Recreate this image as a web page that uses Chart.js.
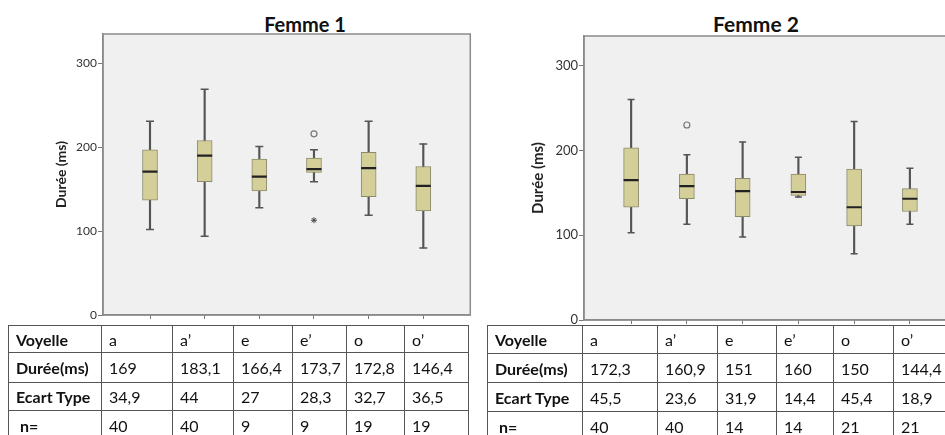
<!DOCTYPE html>
<html>
<head>
<meta charset="utf-8">
<script src="https://cdn.jsdelivr.net/npm/chart.js@4.4.1/dist/chart.umd.min.js"></script>
<style>
  body { margin: 0; width: 945px; height: 435px; overflow: hidden; background: #fff; position: relative; font-family: Lato, "Open Sans", sans-serif; }
  .title { position: absolute; font-weight: bold; color: #111; transform: translate(-50%, -50%); white-space: nowrap; }
  .wrap { position: absolute; top: 0; }
  table { position: absolute; border-collapse: collapse; table-layout: fixed; font-size: 16px; color: #111; }
  td { border: 1px solid #555; padding: 0 0 0 7px; white-space: nowrap; overflow: hidden; }
  td.h { font-weight: bold; }
</style>
</head>
<body>
<div class="title" style="left:305px; top:24px; font-size:20px;">Femme 1</div>
<div class="title" style="left:756px; top:23px; font-size:21px;">Femme 2</div>
<canvas id="f1" class="wrap" style="left:0px" width="480" height="330"></canvas>
<canvas id="f2" class="wrap" style="left:487px" width="480" height="330"></canvas>
<table id="t1" style="left:8px; top:325px;"></table>
<table id="t2" style="left:487px; top:325px;"></table>
<script>
// vowels (categories)
const vowels = ['a', 'a’', 'e', 'e’', 'o', 'o’'];
const yTicks = [0, 100, 200, 300];

// Femme 1 box plot values
const f1Min = [102, 94, 128, 159, 119, 80];
const f1Q1  = [137, 159, 148, 170, 141, 124];
const f1Med = [171, 190, 165, 174, 175, 154];
const f1Q3  = [197, 208, 186, 187, 194, 177];
const f1Max = [231, 269, 201, 197, 231, 204];
const f1Circles = [{ x: 3, y: 216 }];
const f1Stars = [{ x: 3, y: 113 }];

// Femme 2 box plot values
const f2Min = [103, 113, 98, 145, 78, 113];
const f2Q1  = [133, 143, 122, 147, 111, 128];
const f2Med = [165, 158, 152, 151, 133, 143];
const f2Q3  = [203, 172, 167, 172, 178, 155];
const f2Max = [260, 195, 210, 192, 234, 179];
const f2Circles = [{ x: 1, y: 230 }];
const f2Stars = [];

// table values
const f1Mean = ['169', '183,1', '166,4', '173,7', '172,8', '146,4'];
const f1Sd   = ['34,9', '44', '27', '28,3', '32,7', '36,5'];
const f1N    = ['40', '40', '9', '9', '19', '19'];
const f2Mean = ['172,3', '160,9', '151', '160', '150', '144,4'];
const f2Sd   = ['45,5', '23,6', '31,9', '14,4', '45,4', '18,9'];
const f2N    = ['40', '40', '14', '14', '21', '21'];

Chart.defaults.font.family = 'Lato';

const plotFrame = {
    id: 'plotFrame',
    beforeDraw(chart) {
        const a = chart.chartArea, ctx = chart.ctx;
        ctx.save();
        ctx.fillStyle = '#f0f0f0';
        ctx.fillRect(a.left, a.top, a.right - a.left, a.bottom - a.top);
        ctx.strokeStyle = '#8a8a8a';
        ctx.lineWidth = 1.5;
        ctx.strokeRect(a.left, a.top, a.right - a.left, a.bottom - a.top);
        ctx.restore();
    }
};

function boxChart(id, s) {
    const idx = s.med.map((_, i) => i);
    const caps = idx.map(i => ({ x: i, y: s.min[i] })).concat(idx.map(i => ({ x: i, y: s.max[i] })));
    return new Chart(document.getElementById(id), {
        type: 'bar',
        data: {
            datasets: [
                { type: 'scatter', data: idx.map(i => ({ x: i, y: s.med[i] })), pointStyle: 'line',
                  pointRadius: s.boxW / 2, pointBorderColor: '#222', pointBorderWidth: 2.2, order: 0 },
                { type: 'scatter', data: caps, pointStyle: 'line', pointRadius: s.capR,
                  pointBorderColor: '#555', pointBorderWidth: 1.5, order: 1 },
                { type: 'scatter', data: s.circles, pointStyle: 'circle', pointRadius: 3,
                  pointBackgroundColor: 'rgba(0,0,0,0)', pointBorderColor: '#777', pointBorderWidth: 1.2, order: 0 },
                { type: 'scatter', data: s.stars, pointStyle: 'star', pointRadius: 3,
                  pointBorderColor: '#444', pointBorderWidth: 1, order: 0 },
                { type: 'bar', data: idx.map(i => ({ x: i, y: [s.q1[i], s.q3[i]] })), backgroundColor: '#d4cf98',
                  borderColor: '#8b8a6b', borderWidth: 1, borderSkipped: false, barThickness: s.boxW, grouped: false, order: 2 },
                { type: 'bar', data: idx.map(i => ({ x: i, y: [s.min[i], s.max[i]] })), backgroundColor: '#555',
                  barThickness: 1.5, grouped: false, order: 3 }
            ]
        },
        options: {
            responsive: false,
            animation: false,
            layout: { padding: s.pad },
            plugins: { legend: { display: false }, tooltip: { enabled: false } },
            scales: {
                x: {
                    type: 'linear', min: s.xMin, max: s.xMax, offset: false,
                    afterBuildTicks: a => { a.ticks = idx.map(v => ({ value: v })); },
                    afterFit: a => { a.height = s.xH; },
                    ticks: { display: false },
                    grid: { offset: false, drawOnChartArea: false, drawTicks: true, tickLength: 4, color: '#777' },
                    border: { color: '#8a8a8a', width: 1.5 }
                },
                y: {
                    min: 0, max: 335,
                    afterBuildTicks: a => { a.ticks = yTicks.map(v => ({ value: v })); },
                    afterFit: a => { a.width = s.yW; },
                    ticks: { padding: 1, color: '#333', font: { size: s.tickSize } },
                    grid: { drawOnChartArea: false, drawTicks: true, tickLength: 5, color: '#777' },
                    border: { color: '#8a8a8a', width: 1.5 },
                    title: { display: true, text: 'Durée (ms)', color: '#222',
                             font: { size: s.titleSize, weight: 'bold' }, padding: { top: s.tPad, bottom: 0 } }
                }
            }
        },
        plugins: [plotFrame]
    });
}

boxChart('f1', {
    min: f1Min, q1: f1Q1, med: f1Med, q3: f1Q3, max: f1Max, circles: f1Circles, stars: f1Stars,
    boxW: 15, capR: 4, xMin: -0.86, xMax: 5.86, xH: 15, yW: 63,
    pad: { left: 40, top: 34, right: 9, bottom: 0 }, tickSize: 12, titleSize: 14, tPad: 13
});
boxChart('f2', {
    min: f2Min, q1: f2Q1, med: f2Med, q3: f2Q3, max: f2Max, circles: f2Circles, stars: f2Stars,
    boxW: 15, capR: 3.5, xMin: -0.845, xMax: 5.85, xH: 10, yW: 62,
    pad: { left: 35, top: 36, right: 7, bottom: 0 }, tickSize: 13, titleSize: 15, tPad: 7
});

function buildTable(id, cols, rowsH, mean, sd, n) {
    const t = document.getElementById(id);
    const cg = document.createElement('colgroup');
    cols.forEach(w => { const c = document.createElement('col'); c.style.width = w + 'px'; cg.appendChild(c); });
    t.appendChild(cg);
    t.style.width = cols.reduce((a, b) => a + b, 0) + 'px';
    const rows = [['Voyelle', vowels], ['Durée(ms)', mean], ['Ecart Type', sd], ['\u00a0n=', n]];
    rows.forEach((r, k) => {
        const tr = document.createElement('tr');
        tr.style.height = rowsH[k] + 'px';
        const th = document.createElement('td');
        th.className = 'h';
        th.textContent = r[0];
        tr.appendChild(th);
        r[1].forEach(v => { const td = document.createElement('td'); td.textContent = v; tr.appendChild(td); });
        t.appendChild(tr);
    });
}
buildTable('t1', [93, 71, 61, 59, 54, 58, 64], [27, 30, 28, 30], f1Mean, f1Sd, f1N);
buildTable('t2', [95, 75, 60, 59, 57, 60, 70], [28, 29, 29, 30], f2Mean, f2Sd, f2N);
</script>
</body>
</html>
